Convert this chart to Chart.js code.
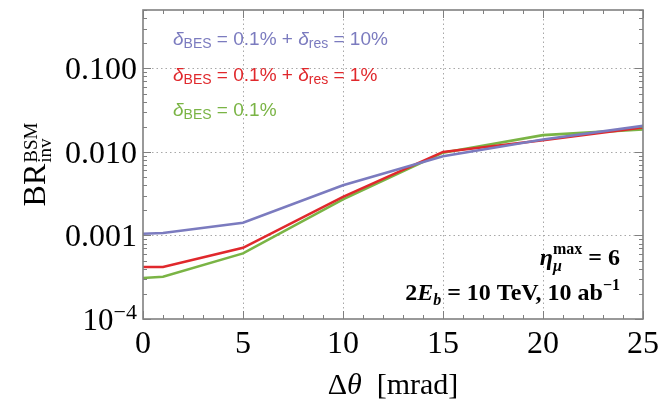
<!DOCTYPE html>
<html>
<head>
<meta charset="utf-8">
<script src="https://cdn.jsdelivr.net/npm/chart.js@4"></script>
<style>
  body { margin: 0; background: #fff; }
  #wrap { width: 660px; height: 404px; }
</style>
</head>
<body>
<div id="wrap"><canvas id="brChart" width="660" height="404"></canvas></div>
<script>
// Δθ [mrad]
const dTheta = [0, 1, 5, 10, 15, 20, 25];
// BR_inv^BSM for the three resolution assumptions
const brRes10 = [0.00105, 0.00107, 0.00142, 0.0040, 0.0089, 0.0141, 0.0205];
const brRes1 = [0.00042, 0.00042, 0.00071, 0.0029, 0.0100, 0.0138, 0.0196];
const brBes = [0.00031, 0.00032, 0.00061, 0.0027, 0.0098, 0.0159, 0.0186];

const xTicks = [0, 5, 10, 15, 20, 25];
const yTicks = [0.0001, 0.001, 0.01, 0.1];
const yTickLabels = ['10^-4', '0.001', '0.010', '0.100'];

const BLUE = '#7b7bbf';
const RED = '#e0282c';
const GREEN = '#7ab445';
const FRAME = '#808080';

const pts = ys => dTheta.map((x, i) => ({ x: x, y: ys[i] }));

// draws a run of text pieces with their own font and vertical shift
function runWidth(ctx, parts) {
    let w = 0;
    parts.forEach(p => { ctx.font = p.font; if (!p.stack) w += ctx.measureText(p.t).width; });
    return w;
}
function drawRun(ctx, parts, x, y, color) {
    ctx.fillStyle = color;
    ctx.textAlign = 'left';
    ctx.textBaseline = 'alphabetic';
    parts.forEach(p => {
        ctx.font = p.font;
        ctx.fillText(p.t, x + (p.dx || 0), y + (p.dy || 0));
        if (!p.stack) x += ctx.measureText(p.t).width;
    });
    return x;
}

const framePlugin = {
    id: 'frame',
    beforeDatasetsDraw(chart) {
        const ctx = chart.ctx, a = chart.chartArea;
        const xs = chart.scales.x, ys = chart.scales.y;
        ctx.save();
        ctx.strokeStyle = '#a8a8a8';
        ctx.lineWidth = 1;
        ctx.setLineDash([1.5, 3]);
        [5, 10, 15, 20].forEach(v => {
            const px = Math.round(xs.getPixelForValue(v)) + 0.5;
            ctx.beginPath(); ctx.moveTo(px, a.top); ctx.lineTo(px, a.bottom); ctx.stroke();
        });
        [0.001, 0.01, 0.1].forEach(v => {
            const py = Math.round(ys.getPixelForValue(v)) + 0.5;
            ctx.beginPath(); ctx.moveTo(a.left, py); ctx.lineTo(a.right, py); ctx.stroke();
        });
        ctx.restore();
    },
    afterDatasetsDraw(chart) {
        const ctx = chart.ctx, a = chart.chartArea;
        const xs = chart.scales.x, ys = chart.scales.y;
        ctx.save();

        // ticks pointing inward on all four sides
        ctx.strokeStyle = FRAME;
        ctx.lineWidth = 1;
        for (let v = 0; v <= 25; v++) {
            const len = v % 5 === 0 ? 8 : 4;
            const px = Math.round(xs.getPixelForValue(v)) + 0.5;
            ctx.beginPath();
            ctx.moveTo(px, a.bottom); ctx.lineTo(px, a.bottom - len);
            ctx.moveTo(px, a.top); ctx.lineTo(px, a.top + len);
            ctx.stroke();
        }
        for (let d = 0.0001; d < 1; d *= 10) {
            for (let m = 1; m <= 9; m++) {
                const v = d * m;
                if (v > 0.5 + 1e-9) break;
                const len = m === 1 ? 8 : 4;
                const py = Math.round(ys.getPixelForValue(v)) + 0.5;
                ctx.beginPath();
                ctx.moveTo(a.left, py); ctx.lineTo(a.left + len, py);
                ctx.moveTo(a.right, py); ctx.lineTo(a.right - len, py);
                ctx.stroke();
            }
        }

        // frame
        ctx.lineWidth = 1.6;
        ctx.strokeRect(a.left, a.top, a.right - a.left, a.bottom - a.top);

        // tick labels
        ctx.fillStyle = '#000';
        ctx.font = '32px "Liberation Serif"';
        ctx.textAlign = 'center';
        ctx.textBaseline = 'alphabetic';
        xTicks.forEach(v => ctx.fillText(String(v), xs.getPixelForValue(v), 353));

        yTicks.forEach((v, i) => {
            const py = ys.getPixelForValue(v);
            const lab = yTickLabels[i];
            if (lab.indexOf('^') > -1) {
                const [base, exp] = lab.split('^');
                const parts = [
                    { t: base, font: '31px "Liberation Serif"' },
                    { t: exp.replace('-', '\u2212'), font: '22px "Liberation Serif"', dy: -11 }
                ];
                const w = runWidth(ctx, parts);
                drawRun(ctx, parts, 137 - w, py + 11, '#000');
            } else {
                ctx.textAlign = 'right';
                ctx.font = '32px "Liberation Serif"';
                ctx.fillText(lab, 137, py + 11);
            }
        });

        // axis titles
        const xParts = [
            { t: '\u0394', font: '30px "Liberation Serif"' },
            { t: '\u03b8', font: 'italic 30px "Liberation Serif"' },
            { t: '  [mrad]', font: '30px "Liberation Serif"' }
        ];
        const xw = runWidth(ctx, xParts);
        drawRun(ctx, xParts, (a.left + a.right) / 2 - xw / 2, 394, '#000');

        ctx.save();
        ctx.translate(45, (a.top + a.bottom) / 2);
        ctx.rotate(-Math.PI / 2);
        ctx.font = '32px "Liberation Serif"';
        const brW = ctx.measureText('BR').width;
        ctx.font = '19px "Liberation Serif"';
        const supW = Math.max(ctx.measureText('BSM').width, ctx.measureText('inv').width);
        const x0 = -(brW + supW + 1) / 2;
        const yParts = [
            { t: 'BR', font: '32px "Liberation Serif"' },
            { t: 'inv', font: '19px "Liberation Serif"', dx: 1, dy: 6, stack: true },
            { t: 'BSM', font: '19px "Liberation Serif"', dx: 1, dy: -8 }
        ];
        drawRun(ctx, yParts, x0, 0, '#000');
        ctx.restore();

        // legend text inside the plot
        const sans = '19px "Liberation Sans"';
        const ital = 'italic 19px "Liberation Sans"';
        const sub = '14px "Liberation Sans"';
        drawRun(ctx, [
            { t: '\u03b4', font: ital }, { t: 'BES', font: sub, dy: 3 },
            { t: ' = 0.1% + ', font: sans },
            { t: '\u03b4', font: ital }, { t: 'res', font: sub, dy: 3 },
            { t: ' = 10%', font: sans }
        ], 173, 45, BLUE);
        drawRun(ctx, [
            { t: '\u03b4', font: ital }, { t: 'BES', font: sub, dy: 3 },
            { t: ' = 0.1% + ', font: sans },
            { t: '\u03b4', font: ital }, { t: 'res', font: sub, dy: 3 },
            { t: ' = 1%', font: sans }
        ], 173, 81, RED);
        drawRun(ctx, [
            { t: '\u03b4', font: ital }, { t: 'BES', font: sub, dy: 3 },
            { t: ' = 0.1%', font: sans }
        ], 173, 116, GREEN);

        // run annotation
        const bold = 'bold 24px "Liberation Serif"';
        const boldIt = 'bold italic 24px "Liberation Serif"';
        const small = 'bold 16px "Liberation Serif"';
        const smallIt = 'bold italic 16px "Liberation Serif"';
        const l1 = [
            { t: '\u03b7', font: boldIt },
            { t: '\u03bc', font: smallIt, dy: 6, stack: true },
            { t: 'max', font: small, dy: -11 },
            { t: ' = 6', font: bold }
        ];
        drawRun(ctx, l1, 620 - runWidth(ctx, l1), 265, '#000');
        const l2 = [
            { t: '2', font: bold }, { t: 'E', font: boldIt },
            { t: 'b', font: smallIt, dy: 5 },
            { t: ' = 10 TeV, 10 ab', font: bold },
            { t: '\u22121', font: small, dy: -10 }
        ];
        drawRun(ctx, l2, 620 - runWidth(ctx, l2), 300, '#000');

        ctx.restore();
    }
};

new Chart(document.getElementById('brChart').getContext('2d'), {
    type: 'line',
    data: {
        datasets: [
            { label: 'res 10%', data: pts(brRes10), borderColor: BLUE },
            { label: 'res 1%', data: pts(brRes1), borderColor: RED },
            { label: 'BES only', data: pts(brBes), borderColor: GREEN }
        ].map(d => Object.assign(d, { borderWidth: 2.6, pointRadius: 0, tension: 0, fill: false }))
    },
    options: {
        responsive: false,
        animation: false,
        layout: { padding: { left: 143, right: 17, top: 10, bottom: 85 } },
        plugins: { legend: { display: false }, tooltip: { enabled: false } },
        scales: {
            x: { type: 'linear', min: 0, max: 25, display: false },
            y: { type: 'logarithmic', min: 0.0001, max: 0.5, display: false }
        }
    },
    plugins: [framePlugin]
});
</script>
</body>
</html>
